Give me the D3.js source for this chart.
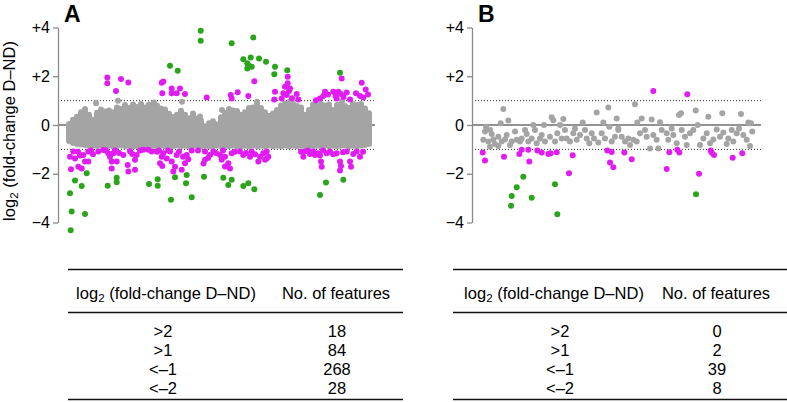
<!DOCTYPE html>
<html><head><meta charset="utf-8">
<script src="https://cdn.jsdelivr.net/npm/d3@7"></script>
<style>
body{margin:0;background:#fff;}
svg{display:block;font-family:"Liberation Sans",Arial,Helvetica,sans-serif;}
</style></head>
<body><svg id="c" width="787" height="402"></svg>
<script>
// ---------- DATA ----------
const tickValues = [4, 2, 0, -2, -4];
const tickLabels = ["+4", "+2", "0", "\u22122", "\u22124"];
const panelLabels = ["A", "B"];
const tableHeaders = ["log2 (fold-change D\u2013ND)", "No. of features"];
const thresholds = [">2", ">1", "<\u20131", "<\u20132"];
const countsA = [18, 84, 268, 28];
const countsB = [0, 2, 39, 8];

// Panel A: dense grey band read as per-position extents [position, top, bottom] (log2 FC)
const grayA = [[11,0.04,-0.66],[15,0.22,-0.74],[19,0.34,-0.78],[23,0.52,-0.8],[27,0.66,-0.82],[31,0.42,-0.84],[35,0.22,-0.83],[39,0.5,-0.86],[43,0.64,-0.84],[47,0.55,-0.87],[51,0.6,-0.85],[55,0.52,-0.88],[59,0.72,-0.86],[63,0.66,-0.84],[67,0.82,-0.87],[71,0.7,-0.85],[75,0.84,-0.88],[79,0.74,-0.86],[83,0.86,-0.84],[87,0.72,-0.87],[91,0.84,-0.88],[95,0.76,-0.85],[99,0.8,-0.87],[103,0.68,-0.84],[107,0.64,-0.87],[111,0.46,-0.85],[115,0.33,-0.87],[119,0.42,-0.84],[123,0.58,-0.87],[127,0.42,-0.85],[131,0.28,-0.88],[135,0.47,-0.86],[139,0.26,-0.84],[143,0.18,-0.87],[147,-0.05,-0.85],[151,0.07,-0.88],[155,0.15,-0.86],[159,0.02,-0.84],[163,0.32,-0.87],[167,0.5,-0.85],[171,0.66,-0.87],[175,0.6,-0.84],[179,0.57,-0.87],[183,0.42,-0.88],[187,0.52,-0.85],[191,0.7,-0.87],[195,0.72,-0.84],[199,0.82,-0.87],[203,0.7,-0.85],[207,0.52,-0.87],[211,0.38,-0.84],[215,0.47,-0.87],[219,0.62,-0.85],[223,0.8,-0.87],[227,0.88,-0.84],[231,0.84,-0.87],[235,0.87,-0.85],[239,0.78,-0.87],[243,0.72,-0.85],[247,0.42,-0.87],[251,0.62,-0.84],[255,0.84,-0.87],[259,0.8,-0.85],[263,0.86,-0.87],[267,0.8,-0.84],[271,0.84,-0.87],[275,0.62,-0.85],[279,0.82,-0.87],[283,0.86,-0.85],[287,0.78,-0.84],[291,0.7,-0.87],[295,0.86,-0.85],[299,0.82,-0.87],[303,0.86,-0.84],[307,0.68,-0.82],[311,0.48,-0.78],
[38,0.89,0.89],[60,1.0,1.0],[124,0.95,0.95],[142,0.35,0.35],[164,0.62,0.62],[199,0.95,0.95],[96,0.92,0.92],[232,0.96,0.96],[284,0.97,0.97]];

const magentaA = [[49.3,1.95],[49.3,1.71],[63,1.89],[70.3,1.74],[58,1.39],[103.7,1.73],[104.3,1.30],[105.3,1.78],[113.7,1.30],[118.7,1.30],[122,1.50],[127,1.27],[113.7,1.50],[148.7,1.13],[172.7,1.23],[173.7,1.09],[179.7,1.34],[190.3,1.19],[196.3,1.80],[217,1.36],[216.3,1.05],[229.7,1.98],[229.7,1.71],[227,1.57],[232,1.50],[225.3,1.30],[228.7,1.23],[223.7,1.09],[238.7,1.27],[240.3,1.05],[262,1.09],[267,1.36],[265.3,1.19],[275.3,1.36],[277.7,1.19],[280.3,1.36],[283,1.27],[278.7,1.09],[283.7,1.91],[288.7,1.33],[303.7,1.73],[307.7,1.46],[302,1.19],[305.3,1.13],[270,1.25],[285.5,1.15],[298,1.3],[310,1.25],[234,1.1],[231,1.4],[258,1.02],[292,1.05],
[13,-1.82],[12,-1.30],[15.3,-1.09],[17,-1.37],[20.3,-1.71],[23.7,-1.78],[25.3,-1.23],[27,-1.50],[30.3,-1.50],[30.3,-1.09],[33,-1.05],[40.3,-1.09],[45.3,-1.03],[50.3,-1.16],[52,-1.30],[55.3,-1.16],[53.7,-1.50],[58.7,-1.50],[53.7,-1.78],[65.3,-1.23],[69.7,-1.64],[70.3,-1.91],[74.3,-1.19],[77,-1.43],[78.7,-1.23],[77,-1.84],[85.3,-1.02],[90.3,-1.02],[93.7,-1.09],[103.7,-1.30],[104.3,-1.68],
[20,-1.1],[22,-1.25],[35,-1.2],[48,-1.05],[57,-1.05],[61,-1.15],[72,-1.08],[82,-1.05],[99,-1.1],[101,-1.05],
[102,-1.57],[105.3,-1.16],[108.7,-1.37],[112,-1.09],[113.7,-1.50],[115.3,-1.91],[118.7,-1.23],[117,-1.71],[123.7,-1.84],[127,-1.57],[128.7,-1.23],[130.3,-1.41],[133.7,-1.05],[147,-1.09],[147,-1.43],[152,-1.23],[155.3,-1.09],[162,-1.23],[163.7,-1.43],[167,-1.30],[170.3,-1.57],[172,-1.78],[173.7,-1.16],[182,-1.09],[185.3,-1.23],[192,-1.30],[193.7,-1.09],[200.3,-1.50],[202,-1.30],[205.3,-1.16],[208.7,-1.37],
[110,-1.05],[121,-1.1],[125,-1.3],[140,-1.05],[150,-1.35],[158,-1.15],[165,-1.05],[177,-1.1],[188,-1.15],[197,-1.2],[145.5,-1.58],[167,-1.7],
[208.7,-1.09],[210.3,-1.30],[207,-1.43],[245.3,-1.30],[247,-1.09],[252,-1.19],[255.3,-1.09],[257,-1.23],[260.3,-1.16],[263,-1.50],[263.7,-1.71],[268.7,-1.16],[272,-1.09],[278.7,-1.16],[282,-1.50],[283,-1.68],[282,-1.87],[288.7,-1.09],[292,-1.50],[293,-1.71],[295.3,-1.19],[302,-1.30],[298.7,-1.09],
[250,-1.05],[265,-1.05],[275,-1.2],[285,-1.12],[305,-1.1],[262,-1.25],[243,-1.1]];

const greenA = [[28.7,-1.98],[17,-2.28],[23.7,-2.50],[12,-2.80],[13.7,-3.55],[27,-3.65],[12.7,-4.32],[49.7,-2.49],[58.7,-2.16],[58.7,-2.35],[91,-2.42],[99.7,-2.23],[99.7,-2.49],[117,-2.14],[128.7,-2.05],[128,-2.39],[113,-3.07],[133.7,-2.96],[146,-2.12],[165.3,-2.16],[173.7,-2.25],[170.3,-2.46],[185.3,-2.50],[190.3,-2.39],[196.3,-2.64],[268,-2.36],[285.3,-2.25],[262,-2.87],
[142.7,3.87],[142.7,3.46],[173.7,3.35],[195.3,3.59],[112,2.43],[119.7,2.23],[185.3,2.70],[192.7,2.77],[189.3,2.53],[193.7,2.39],[189.3,2.32],[190.5,2.45],[201,2.73],[208,2.60],[217,2.39],[216.3,2.08],[229.3,2.25],[282,2.14]];

// Panel B
const grayB = [[31.3,0.66],[28.7,0.07],[36.3,0.18],[14,-0.07],[13,-0.27],[18,-0.20],[19.7,-0.37],[11.3,-0.61],[16.3,-0.68],[21.3,-0.59],[23,-0.78],[26.3,-0.48],[29.7,-0.68],[33,-0.59],[34.7,-0.41],[38,-0.82],[39.7,-0.68],[43,-0.27],[44.7,-0.61],[48,-0.68],[49.7,-0.55],[53,-0.20],[54.7,-0.37],[56.3,-0.68],[59.7,-0.55],[61.3,0.0],[63,-0.20],[64.7,-0.75],[68,-0.55],[69.7,-0.41],[72,0.0],[73,-0.68],[78,-0.48],[79.7,0.32],[81.3,0.20],[83,-0.68],[85.3,-0.34],[88,0.0],[91.3,0.25],[89.7,-0.55],[93,-0.20],[94.7,-0.55],[98,-0.68],[101.3,-0.34],[103,-0.14],[104.7,-0.61],[108,-0.41],[110.7,0.10],[113,-0.20],[114.7,-0.55],[117.3,-0.75],[119.7,-0.34],[122,-0.55],[124.7,0.51],[126.3,-0.72],[129.7,-0.34],[131.3,0.10],[133,-0.55],[136.3,0.72],[137.3,-0.07],[139.7,-0.68],[143,-0.48],[144.7,0.27],[146.3,-0.20],[18,-0.89],[26.3,-0.86],
[163,0.85],[146.3,-0.14],[149.7,-0.48],[153,-0.68],[156.3,-0.55],[158,-0.82],[161.3,-0.61],[164.7,-0.68],[165.3,0.10],[168,-0.34],[169.7,0.27],[173,-0.20],[174.7,-0.48],[178,-0.96],[179.7,0.23],[181.3,-0.41],[184.7,-0.61],[186.3,-0.96],[188,0.11],[189.7,-0.20],[194.7,-0.34],[196.3,-0.61],[199.7,-0.14],[201.3,-0.41],[204.7,-0.75],[207,0.41],[209,0.48],[209.7,-0.20],[213,-0.48],[214.7,-0.82],[218,-0.34],[221.3,-0.20],[223.7,0.59],[225.7,0.0],[228,-0.82],[231.3,-0.55],[234.7,-0.34],[236.3,0.34],[238,-0.75],[241.3,-0.59],[244.7,-0.18],[248,-0.48],[251.3,-0.31],[250.3,0.48],[254.7,-0.78],[256.3,-0.55],[259.7,-0.20],[261.3,-0.68],[264.7,-0.34],[267,-0.14],[269,0.45],[271.3,-0.41],[274.7,-0.61],[276.3,0.10],[278,-0.86],[280.3,-0.27],[279,0.07]];

const magentaB = [[10.7,-1.13],[13,-1.46],[32,-1.30],[47.3,-1.19],[49.7,-1.02],[56.3,-1.02],[57.3,-1.50],[65.3,-1.05],[69.7,-1.13],[76.3,-1.19],[78.7,-1.16],[84.7,-1.12],[100.7,-1.24],[97,-1.98],[135.3,-1.05],[139.7,-1.11],[138,-1.54],[141.3,-1.73],
[181.3,1.39],[215.3,1.26],[152.3,-1.13],[159.7,-1.41],[194.7,-1.80],[197.3,-1.12],[205.3,-1.02],[207.3,-1.13],[227,-2.0],[238.7,-1.05],[239.7,-1.13],[242,-1.23],[260.7,-1.34],[270.3,-1.16]];

const greenB = [[51.3,-2.12],[44.7,-2.55],[39.7,-2.91],[39,-3.31],[59.7,-2.98],[83,-2.43],[85.3,-3.66],[224,-2.84]];

// ---------- DRAW ----------
const svg = d3.select("#c");
const C = {gray:"#a4a4a4", magenta:"#e11cf2", green:"#2aa41a"};
const R = 3;
const y = d3.scaleLinear().domain([-4, 4]).range([222.5, 27.5]);

function panel(xScale, label, grays, grayIsBand, mags, greens, showTitle) {
  const g = svg.append("g");
  const [x0, x1] = xScale.range();
  g.append("text").attr("x", x0 + 6).attr("y", 22).attr("font-size", 23)
    .attr("font-weight", "bold").text(label);
  g.append("line").attr("x1", x0).attr("x2", x1).attr("y1", y(0)).attr("y2", y(0))
    .attr("stroke", "#6e6e6e").attr("stroke-width", 1.6);
  [1, -1].forEach(v => g.append("line").attr("x1", x0).attr("x2", x1)
    .attr("y1", y(v)).attr("y2", y(v)).attr("stroke", "#333")
    .attr("stroke-width", 1).attr("stroke-dasharray", "1,2"));
  if (grayIsBand) {
    g.append("g").selectAll("line").data(grays).join("line")
      .attr("x1", d => xScale(d[0])).attr("x2", d => xScale(d[0]))
      .attr("y1", d => y(d[1])).attr("y2", d => y(d[2]))
      .attr("stroke", C.gray).attr("stroke-width", 2 * R).attr("stroke-linecap", "round");
  } else {
    g.append("g").selectAll("circle").data(grays).join("circle")
      .attr("cx", d => xScale(d[0])).attr("cy", d => y(d[1])).attr("r", R).attr("fill", C.gray);
  }
  g.append("g").selectAll("circle").data(mags).join("circle")
    .attr("cx", d => xScale(d[0])).attr("cy", d => y(d[1])).attr("r", R).attr("fill", C.magenta);
  g.append("g").selectAll("circle").data(greens).join("circle")
    .attr("cx", d => xScale(d[0])).attr("cy", d => y(d[1])).attr("r", R).attr("fill", C.green);
  const ax = g.append("g").attr("transform", `translate(${x0},0)`)
    .call(d3.axisLeft(y).tickValues(tickValues)
      .tickFormat((d, i) => tickLabels[i]).tickSize(5).tickSizeOuter(0).tickPadding(3));
  ax.select(".domain").attr("stroke", "#8a8a8a").attr("stroke-width", 1.3);
  ax.selectAll(".tick line").attr("stroke", "#8a8a8a").attr("stroke-width", 1.3);
  ax.selectAll(".tick text").attr("font-size", 16).attr("fill", "#000")
    .attr("font-family", "Liberation Sans, Arial, sans-serif");
  if (showTitle) {
    const t = g.append("text").attr("transform", "translate(15,131) rotate(-90)")
      .attr("text-anchor", "middle").attr("font-size", 16.5);
    subText(t, tableHeaders[0]);
  }
}

function subText(t, s) {
  t.append("tspan").text(s.slice(0, 3));
  t.append("tspan").attr("font-size", "0.7em").attr("dy", "0.3em").text(s.slice(3, 4));
  t.append("tspan").attr("dy", "-0.21em").text(s.slice(4));
}

const xA = d3.scaleLinear().domain([0, 317]).range([58, 375]);
const xB = d3.scaleLinear().domain([0, 289]).range([472, 761]);
panel(xA, panelLabels[0], grayA, true, magentaA, greenA, true);
panel(xB, panelLabels[1], grayB, false, magentaB, greenB, false);

function table(x0, x1, c1, c2, h1, h2, counts) {
  const g = svg.append("g");
  [269.5, 312.5, 399.5].forEach(yy => g.append("line").attr("x1", x0).attr("x2", x1)
    .attr("y1", yy).attr("y2", yy).attr("stroke", "#111").attr("stroke-width", 1.4));
  const t1 = g.append("text").attr("x", h1).attr("y", 299).attr("text-anchor", "middle").attr("font-size", 16.5);
  subText(t1, tableHeaders[0]);
  g.append("text").attr("x", h2).attr("y", 299).attr("text-anchor", "middle")
    .attr("font-size", 16.5).text(tableHeaders[1]);
  const rowY = d3.scalePoint().domain(thresholds).range([337, 394]);
  thresholds.forEach((th, i) => {
    g.append("text").attr("x", c1).attr("y", rowY(th)).attr("text-anchor", "middle")
      .attr("font-size", 16.5).text(th);
    g.append("text").attr("x", c2).attr("y", rowY(th)).attr("text-anchor", "middle")
      .attr("font-size", 16.5).text(counts[i]);
  });
}
table(68, 403, 163, 337, 166, 336, countsA);
table(453, 787, 560, 717, 554, 716, countsB);
</script></body></html>
